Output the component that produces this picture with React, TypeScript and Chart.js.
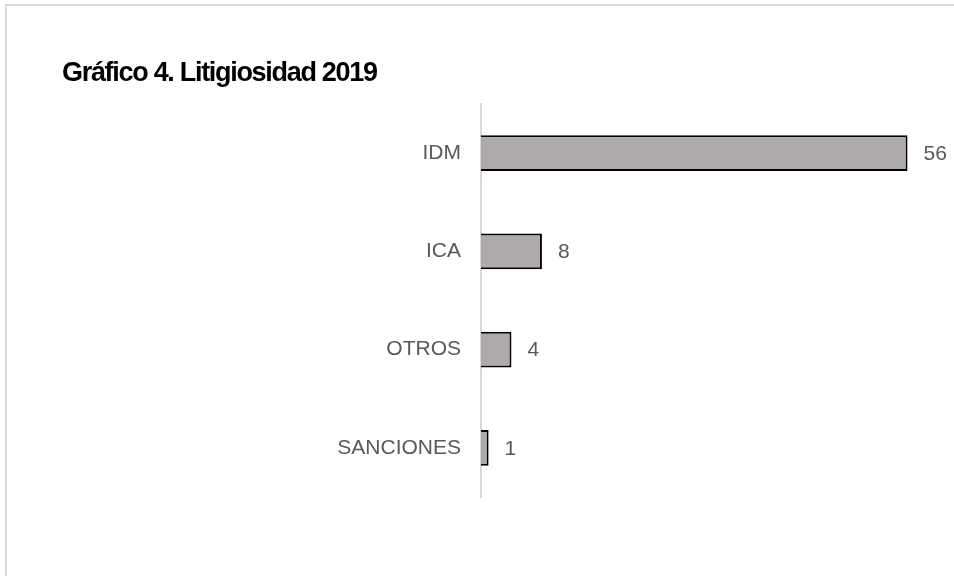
import React, { useEffect, useRef } from "react";
import { Chart, registerables } from "chart.js";

Chart.register(...registerables);

const categories = ["IDM", "ICA", "OTROS", "SANCIONES"];
const values = [56, 8, 4, 1];
const titleText = "Gráfico 4. Litigiosidad 2019";

const FONT = "'Liberation Sans', Arial, sans-serif";

const valueLabels = {
  id: "valueLabels",
  afterDatasetsDraw(chart: any) {
    const ctx = chart.ctx;
    const meta = chart.getDatasetMeta(0);
    ctx.save();
    ctx.font = `21px ${FONT}`;
    ctx.fillStyle = "#595959";
    ctx.textBaseline = "middle";
    ctx.textAlign = "left";
    meta.data.forEach((bar: any, i: number) => {
      ctx.fillText(String(values[i]), bar.x + 16, bar.y + 1);
    });
    ctx.restore();
  },
};

export default function App() {
  const ref = useRef<HTMLCanvasElement>(null);
  useEffect(() => {
    if (!ref.current) return;
    const chart = new Chart(ref.current, {
      type: "bar",
      data: {
        labels: categories,
        datasets: [
          {
            data: values,
            backgroundColor: "#aeaaaa",
            borderColor: "#000000",
            borderWidth: 2,
            borderSkipped: "left",
            barPercentage: 0.365,
            categoryPercentage: 1,
          },
        ],
      },
      options: {
        indexAxis: "y",
        animation: false,
        responsive: false,
        devicePixelRatio: 1,
        layout: { padding: { left: 62, right: 16, top: 104, bottom: 79 } },
        plugins: {
          legend: { display: false },
          tooltip: { enabled: false },
          title: { display: false },
        },
        scales: {
          x: {
            min: 0,
            max: 60,
            display: false,
            grid: { display: false },
          },
          y: {
            afterFit(scale: any) {
              scale.width = 419;
            },
            grid: { display: false, drawTicks: false },
            border: { display: true, color: "#d9d9d9", width: 2 },
            ticks: {
              color: "#595959",
              padding: 20,
              font: { family: FONT, size: 21 },
            },
          },
        },
      },
      plugins: [valueLabels],
    });
    return () => chart.destroy();
  }, []);

  return (
    <div
      style={{
        position: "fixed",
        left: 0,
        top: 0,
        width: 954,
        height: 576,
        overflow: "hidden",
        background: "#ffffff",
      }}
    >
      <div
        style={{
          position: "absolute",
          left: 5,
          top: 4,
          width: 1200,
          height: 1000,
          border: "2px solid #d9d9d9",
        }}
      />
      <canvas
        ref={ref}
        width={954}
        height={576}
        style={{ position: "absolute", left: 0, top: 0, width: 954, height: 576 }}
      />
      <div
        style={{
          position: "absolute",
          left: 62,
          top: 59,
          fontFamily: FONT,
          fontWeight: "bold",
          fontSize: 27,
          lineHeight: "27px",
          letterSpacing: "-1.3px",
          color: "#000000",
          whiteSpace: "nowrap",
        }}
      >
        {titleText}
      </div>
    </div>
  );
}
